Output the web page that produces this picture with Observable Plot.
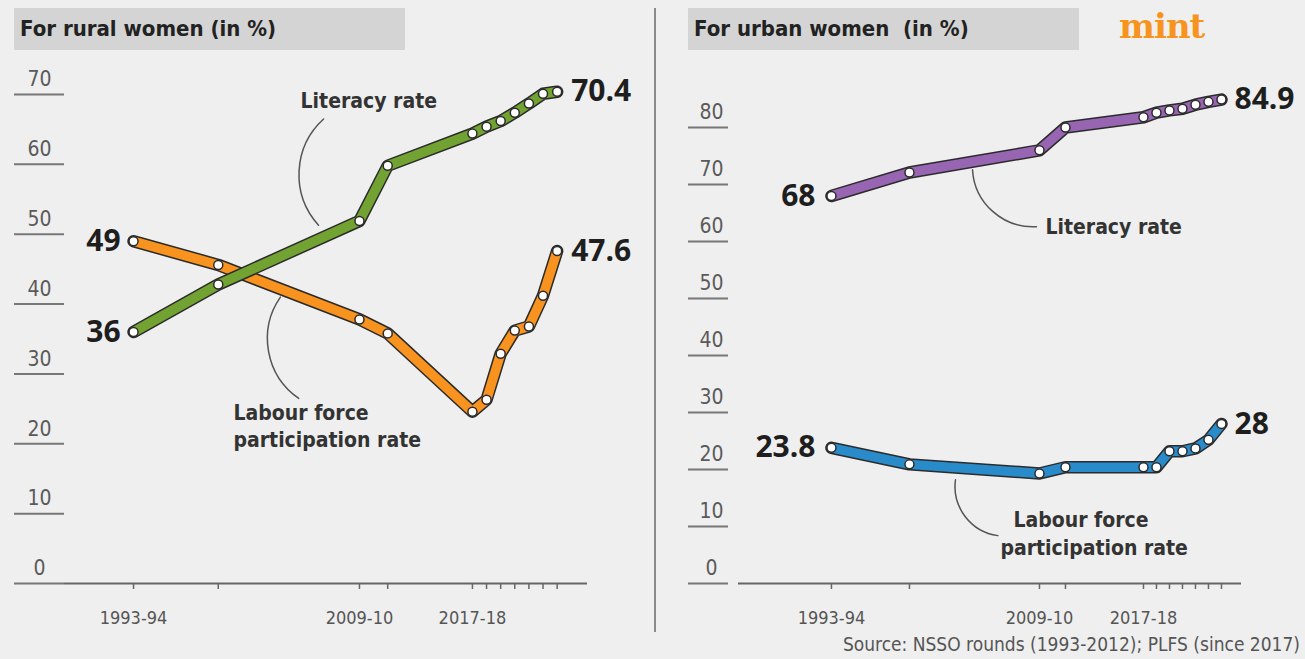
<!DOCTYPE html>
<html><head><meta charset="utf-8">
<script src="https://cdn.jsdelivr.net/npm/d3@7"></script>
<script src="https://cdn.jsdelivr.net/npm/@observablehq/plot@0.6"></script>
<style>
body{margin:0;background:#efefef;}
#wrap{position:relative;width:1305px;height:659px;overflow:hidden;background:#efefef;font-family:"Liberation Sans Narrow","DejaVu Sans Condensed","DejaVu Sans",sans-serif;}
.box{position:absolute;top:8px;height:42px;width:391px;background:#d4d4d4;color:#222;font-weight:bold;font-size:22px;line-height:42px;padding-left:6px;box-sizing:border-box;}
#divider{position:absolute;left:654px;top:8px;width:2px;height:624px;background:#8a8a8a;}
#mint{position:absolute;left:1119px;top:6px;font-family:"DejaVu Serif",serif;font-weight:bold;font-size:34px;color:#f7941d;letter-spacing:-1px;}
#source{position:absolute;right:5px;top:633px;font-size:19px;color:#555;}
svg{position:absolute;top:0;}
</style>
</head><body>
<div id="wrap">
  <div class="box" style="left:14px">For rural women (in %)</div>
  <div class="box" style="left:688px">For urban women&nbsp; (in %)</div>
  <div id="mint">mint</div>
  <div id="divider"></div>
  <div id="source">Source: NSSO rounds (1993-2012); PLFS (since 2017)</div>
</div>
<script>
// ---- data ----
const periods = ["1993-94","1999-00","2009-10","2011-12","2017-18","2018-19","2019-20","2020-21","2021-22","2022-23","2023-24"];
const labelledPeriods = ["1993-94","2009-10","2017-18"];
const ruralLiteracy = [36, 42.8, 51.9, 59.8, 64.4, 65.4, 66.2, 67.4, 68.7, 70.1, 70.4];
const ruralLFPR     = [49, 45.6, 37.8, 35.8, 24.6, 26.3, 32.9, 36.2, 36.8, 41.2, 47.6];
const urbanLiteracy = [68, 72.1, 76.0, 80.0, 81.8, 82.6, 83.0, 83.3, 84.0, 84.5, 84.9];
const urbanLFPR     = [23.8, 20.9, 19.3, 20.4, 20.4, 20.4, 23.2, 23.2, 23.7, 25.2, 28.0];
const ruralTicks = [0,10,20,30,40,50,60,70];
const urbanTicks = [0,10,20,30,40,50,60,70,80];
// annotation texts (position in data units: period mid-year, percent)
const ruralNotes = [
  {text:"Literacy rate", x:2005.33, y:69.1},
  {text:"Labour force", x:2000.58, y:24.3},
  {text:"participation rate", x:2000.58, y:20.5}
];
const urbanNotes = [
  {text:"Literacy rate", x:2009.96, y:62.5},
  {text:"Labour force", x:2007.5, y:11.05},
  {text:"participation rate", x:2006.5, y:6.14}
];
const ruralLeaders = [
  {x1:2006.96, y1:66.5, x2:2006.6, y2:51.3},
  {x1:2003.9, y1:41.0, x2:2005.2, y2:26.5}
];
const urbanLeaders = [
  {x1:2004.35, y1:72.6, x2:2009.27, y2:62.6},
  {x1:2003.04, y1:18.2, x2:2006.3, y2:8.4}
];

const pos = p => +p.slice(0,4) + 0.5;
const FONT = '"Liberation Sans Narrow","DejaVu Sans Condensed","DejaVu Sans",sans-serif';

function series(vals){ return periods.map((p,i)=>({x:pos(p), y:vals[i]})); }

function lineMarks(data, color, firstDx, lastDx){
  const first = [{...data[0], label:String(data[0].y)}];
  const last = [{...data[data.length-1], label:String(data[data.length-1].y)}];
  return [
    Plot.line(data, {x:"x", y:"y", stroke:"#2b2b2b", strokeWidth:12.5, strokeLinejoin:"round", strokeLinecap:"round"}),
    Plot.line(data, {x:"x", y:"y", stroke:color, strokeWidth:9.5, strokeLinejoin:"round", strokeLinecap:"round"}),
    Plot.dot(data, {x:"x", y:"y", r:4.5, fill:"white", stroke:"#2b2b2b", strokeWidth:1.5}),
    Plot.text(first, {x:"x", y:"y", text:"label", textAnchor:"end", dx:firstDx, fontSize:30, fontWeight:"bold", fill:"#1e1e1e", fontFamily:"Open Sans"}),
    Plot.text(last, {x:"x", y:"y", text:"label", textAnchor:"start", dx:lastDx, fontSize:30, fontWeight:"bold", fill:"#1e1e1e", fontFamily:"Open Sans"})
  ];
}

function panel(cfg){
  const lit = series(cfg.lit), lf = series(cfg.lf);
  const svg = Plot.plot({
    width: cfg.width, height: 659,
    marginLeft: cfg.ml, marginRight: cfg.mr, marginTop: cfg.mt, marginBottom: 76,
    x: {domain: cfg.xdom, axis: null},
    y: {domain: cfg.ydom, axis: null},
    style: {background:"transparent", fontFamily: FONT, color:"#555", overflow:"visible"},
    marks: [
      Plot.ruleY([0], {stroke:"#666", strokeWidth:2}),
      Plot.axisY({ticks: cfg.yticks, tickSize: cfg.tickSize, dx: cfg.tickDx, tickFormat: () => "", stroke:"#777", strokeWidth:2}),
      Plot.axisY({ticks: cfg.yticks, tickSize: 0, tickPadding: cfg.labelPad, textAnchor:"middle", dy:-15, fontSize:21, fill:"#5a5a5a"}),
      Plot.axisX({ticks: periods.map(pos), tickSize: 6, tickFormat: () => "", stroke:"#666", strokeWidth:1.5}),
      Plot.axisX({ticks: labelledPeriods.map(pos), tickSize: 0, tickPadding: 28,
        tickFormat: v => periods.find(p => pos(p) === v), fontSize:18, fill:"#555"}),
      Plot.arrow(cfg.leaders, {x1:"x1", y1:"y1", x2:"x2", y2:"y2", bend: -45, headLength: 0, stroke:"#555", strokeWidth:1.5}),
      Plot.text(cfg.notes, {x:"x", y:"y", text:"text", textAnchor:"start", fontSize:21, fontWeight:"bold", fill:"#333"}),
      ...lineMarks(lf, cfg.lfColor, cfg.firstDx, cfg.lastDx),
      ...lineMarks(lit, cfg.litColor, cfg.firstDx, cfg.lastDx)
    ]
  });
  svg.style.left = cfg.left + "px";
  return svg;
}

const wrap = document.getElementById("wrap");
wrap.appendChild(panel({
  left: 0, width: 655, ml: 64, mr: 68, mt: 94,
  xdom: [1988.61, 2025.65], ydom: [0, 70], yticks: ruralTicks,
  tickSize: 50, tickDx: 0, labelPad: 25,
  lit: ruralLiteracy, lf: ruralLFPR, litColor:"#72a332", lfColor:"#f7931e",
  notes: ruralNotes, leaders: ruralLeaders, firstDx: -13, lastDx: 14
}));
wrap.appendChild(panel({
  left: 655, width: 650, ml: 83, mr: 64, mt: 98.5,
  xdom: [1986.35, 2025.04], ydom: [0, 85], yticks: urbanTicks,
  tickSize: 40, tickDx: -10, labelPad: 27,
  lit: urbanLiteracy, lf: urbanLFPR, litColor:"#9865b3", lfColor:"#2a8bcb",
  notes: urbanNotes, leaders: urbanLeaders, firstDx: -16, lastDx: 13
}));
</script>
</body></html>
